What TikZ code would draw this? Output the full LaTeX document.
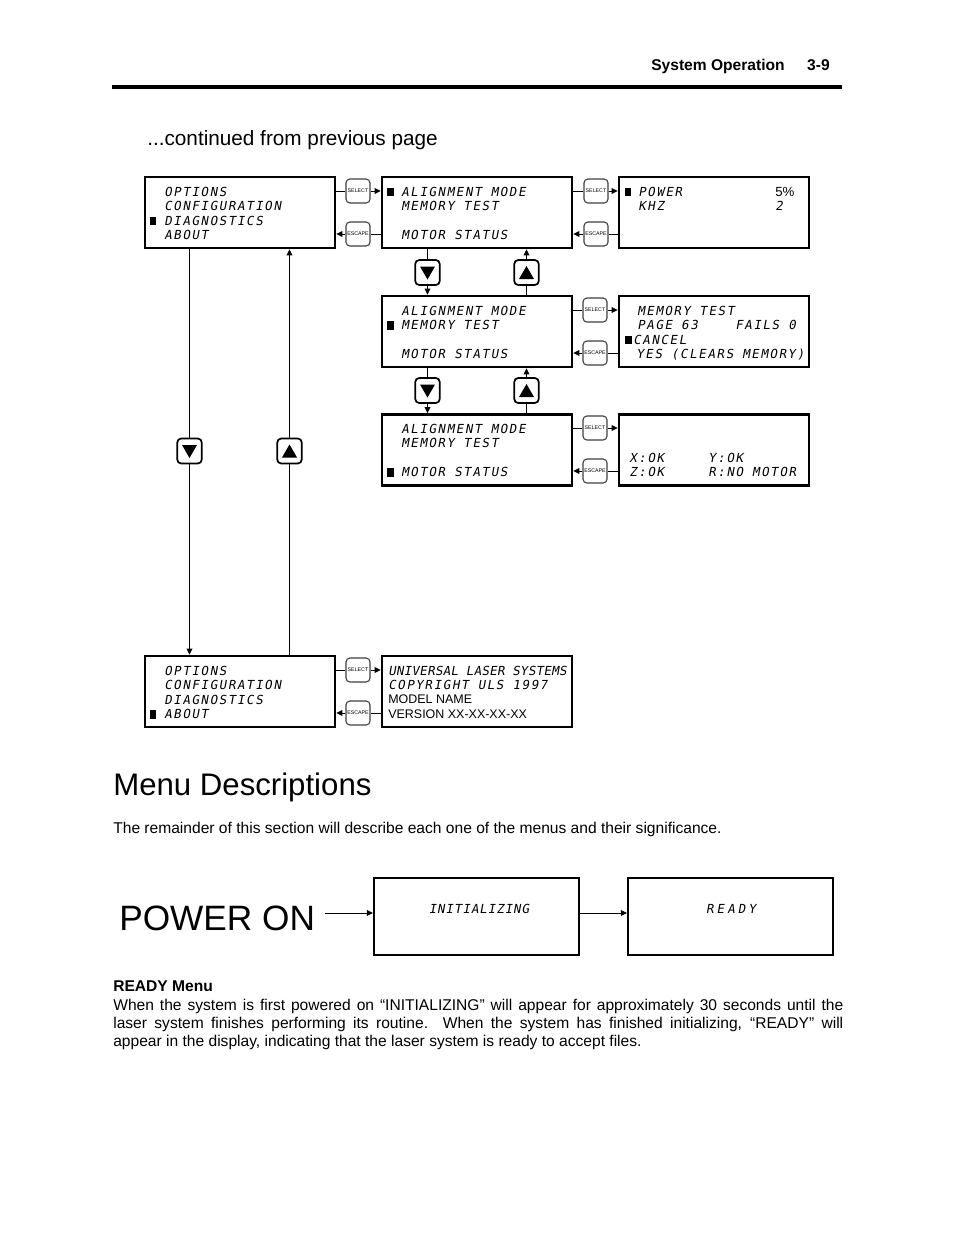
\documentclass[tikz,border=0pt]{standalone}
\usepackage{fontspec}
\setmainfont{Liberation Sans}
\newfontfamily\lcd[FakeSlant=0.18,LetterSpace=12.8]{DejaVu Sans Mono}
\newfontfamily\lcdtight[FakeSlant=0.18,LetterSpace=2.3]{DejaVu Sans Mono}
\newfontfamily\lcdmid[FakeSlant=0.18,LetterSpace=7.5]{DejaVu Sans Mono}
\newfontfamily\lcdwide[FakeSlant=0.18,LetterSpace=24]{DejaVu Sans Mono}
\usetikzlibrary{arrows.meta}
\tikzset{
  lcdbox/.style={draw, line width=1.6pt, minimum width=121.9pt, minimum height=45.55pt, inner sep=0pt},
  bigbox/.style={draw, line width=1.3pt, minimum width=131.5pt, minimum height=49.4pt, inner sep=0pt},
  btn/.style={draw=black!75, line width=0.7pt, rounded corners=2.5pt, minimum width=15.4pt, minimum height=15.4pt, inner sep=0pt, font=\fontsize{3.4}{4}\selectfont},
  nav/.style={draw, line width=1.1pt, rounded corners=2.5pt, minimum width=15.7pt, minimum height=16pt, inner sep=0pt},
  lcdt/.style={anchor=base west, inner sep=0pt, font=\fontsize{8}{9}\lcd},
  conn/.style={line width=0.65pt},
  arr/.style={conn, -{Triangle[length=4pt,width=3.8pt]}},
  txt/.style={anchor=base west, inner sep=0pt}
}
\newcommand\selconn[3]{\draw[conn] (#2.west -| #1.east) -- (#2.west); \draw[arr] (#2.east) -- (#2.east -| #3.west);}
\newcommand\escconn[3]{\draw[conn] (#2.east -| #3.west) -- (#2.east); \draw[arr] (#2.west) -- (#2.west -| #1.east);}
\newcommand\downconn[3]{\draw[conn] (#2.north |- #1.south) -- (#2.north); \draw[arr] (#2.south) -- (#2.south |- #3.north);}
\newcommand\upconn[3]{\draw[conn] (#2.south |- #3.north) -- (#2.south); \draw[arr] (#2.north) -- (#2.north |- #1.south);}
\newcommand\downtri[1]{\fill ([shift={(-7.5,-6)}]#1.center) -- ([shift={(7.5,-6)}]#1.center) -- ([shift={(0,7)}]#1.center) -- cycle;}
\newcommand\uptri[1]{\fill ([shift={(-7.5,6.5)}]#1.center) -- ([shift={(7.5,6.5)}]#1.center) -- ([shift={(0,-6.5)}]#1.center) -- cycle;}
\newcommand\lcdl[4]{\node[lcdt] (#1) at (#2,#3) {#4};}
\newcommand\blt[2]{\fill (#1,#2-4) rectangle ++(6.5,8.5);}
\begin{document}
\begin{tikzpicture}[x=0.6415pt,y=-0.6415pt]
\useasboundingbox[fill=white] (0,0) rectangle (954,1235);

% header
\node[txt, anchor=base east, font=\bfseries] (pg) at (830,70.5) {3-9};
\node[txt, anchor=base east, font=\bfseries] (so) at (785,70.5) {System Operation};
\draw[line width=2pt] (112,87) -- (842,87);
\node[txt, font=\fontsize{13.3}{16}\selectfont] (cont) at (147,145) {...continued from previous page};

% boxes
\node[lcdbox] (A1) at (240,212.5) {};
\node[lcdbox] (B1) at (477,212.5) {};
\node[lcdbox] (C1) at (714,212.5) {};
\node[lcdbox] (B2) at (477,331.5) {};
\node[lcdbox] (C2) at (714,331.5) {};
\node[lcdbox] (B3) at (477,450) {};
\node[lcdbox] (C3) at (714,450) {};
\node[lcdbox] (A4) at (240,691.5) {};
\node[lcdbox] (B4) at (477,691.5) {};

% select / escape buttons
\node[btn] (sA1) at (358,191) {SELECT};
\node[btn] (eA1) at (358,234) {ESCAPE};
\node[btn] (sB1) at (596,191) {SELECT};
\node[btn] (eB1) at (596,234) {ESCAPE};
\node[btn] (sB2) at (595,310) {SELECT};
\node[btn] (eB2) at (595,353) {ESCAPE};
\node[btn] (sB3) at (595,428) {SELECT};
\node[btn] (eB3) at (595,471) {ESCAPE};
\node[btn] (sA4) at (358,670) {SELECT};
\node[btn] (eA4) at (358,713) {ESCAPE};

\selconn{A1}{sA1}{B1} \escconn{A1}{eA1}{B1}
\selconn{B1}{sB1}{C1} \escconn{B1}{eB1}{C1}
\selconn{B2}{sB2}{C2} \escconn{B2}{eB2}{C2}
\selconn{B3}{sB3}{C3} \escconn{B3}{eB3}{C3}
\selconn{A4}{sA4}{B4} \escconn{A4}{eA4}{B4}

% navigation buttons
\node[nav] (dA) at (189.5,451) {};
\node[nav] (uA) at (289.5,451) {};
\node[nav] (dB1) at (427.5,272.5) {};
\node[nav] (uB1) at (526.5,272.5) {};
\node[nav] (dB2) at (427.5,390.5) {};
\node[nav] (uB2) at (526.5,390.5) {};
\downtri{dA} \uptri{uA} \downtri{dB1} \uptri{uB1} \downtri{dB2} \uptri{uB2}

\downconn{A1}{dA}{A4} \upconn{A1}{uA}{A4}
\downconn{B1}{dB1}{B2} \upconn{B1}{uB1}{B2}
\downconn{B2}{dB2}{B3} \upconn{B2}{uB2}{B3}

% A1
\lcdl{a1r1}{164}{196}{OPTIONS}
\lcdl{a1r2}{164}{210.5}{CONFIGURATION}
\lcdl{a1r3}{164}{225}{DIAGNOSTICS}
\lcdl{a1r4}{164}{239.5}{ABOUT}
\blt{149.5}{220.5}
% B1
\lcdl{b1r1}{401}{196}{ALIGNMENT MODE}
\lcdl{b1r2}{401}{210.5}{MEMORY TEST}
\lcdl{b1r4}{401}{239.5}{MOTOR STATUS}
\blt{387}{191.5}
% C1
\lcdl{c1r1}{638}{196}{POWER}
\node[txt, font=\fontsize{8.5}{9}\selectfont] (c1v1) at (775,196) {5\%};
\lcdl{c1r2}{638}{210.5}{KHZ}
\lcdl{c1v2}{775}{210.5}{2}
\blt{624.5}{191.5}
% B2
\lcdl{b2r1}{401}{315}{ALIGNMENT MODE}
\lcdl{b2r2}{401}{329.5}{MEMORY TEST}
\lcdl{b2r4}{401}{358.5}{MOTOR STATUS}
\blt{387}{325}
% C2
\lcdl{c2r1}{637}{315}{MEMORY TEST}
\lcdl{c2r2}{637}{329.5}{PAGE 63}
\lcdl{c2v2}{735}{329.5}{FAILS 0}
\lcdl{c2r3}{633}{344}{CANCEL}
\lcdl{c2r4}{636}{358.5}{YES (CLEARS MEMORY)}
\blt{625}{339.5}
% B3
\lcdl{b3r1}{401}{433}{ALIGNMENT MODE}
\lcdl{b3r2}{401}{447.5}{MEMORY TEST}
\lcdl{b3r4}{401}{476.5}{MOTOR STATUS}
\blt{387}{472}
% C3
\lcdl{c3r3}{629}{462}{X:OK}
\lcdl{c3v3}{708}{462}{Y:OK}
\lcdl{c3r4}{629}{476.5}{Z:OK}
\lcdl{c3v4}{708}{476.5}{R:NO MOTOR}
% A4
\lcdl{a4r1}{164}{675}{OPTIONS}
\lcdl{a4r2}{164}{689.5}{CONFIGURATION}
\lcdl{a4r3}{164}{704}{DIAGNOSTICS}
\lcdl{a4r4}{164}{718.5}{ABOUT}
\blt{149.5}{714}
% B4
\node[lcdt, font=\fontsize{8}{9}\lcdtight] (b4r1) at (388,675) {UNIVERSAL LASER SYSTEMS};
\lcdl{b4r2}{388}{689.5}{COPYRIGHT ULS 1997}
\node[txt, font=\fontsize{8}{9}\selectfont] (b4r3) at (388,703.5) {MODEL NAME};
\node[txt, font=\fontsize{8}{9}\selectfont] (b4r4) at (388,718) {VERSION XX-XX-XX-XX};

% Menu descriptions
\node[txt, font=\fontsize{20}{24}\selectfont] (md) at (113,795) {Menu Descriptions};
\node[txt] (rem) at (113,833) {The remainder of this section will describe each one of the menus and their significance.};

% power on sequence
\node[txt, font=\fontsize{22.6}{27}\selectfont] (pwr) at (119,930) {POWER ON};
\node[bigbox] (init) at (476.5,916.5) {};
\node[bigbox] (ready) at (730.5,916.5) {};
\node[lcdt, anchor=base, font=\fontsize{8}{9}\lcdmid] (initT) at (479,913.5) {INITIALIZING};
\node[lcdt, anchor=base, font=\fontsize{8}{9}\lcdwide] (readyT) at (731,913.5) {READY};
\coordinate (p0) at (325,913);
\draw[arr] (p0) -- (p0 -| init.west);
\draw[arr] (init.east |- p0) -- (ready.west |- p0);

% READY menu
\node[txt, font=\bfseries] (rm) at (113,991) {READY Menu};
\node[anchor=north west, inner sep=0pt, text width=468.3pt, align=justify, font=\fontsize{10}{11.55}\selectfont] (para) at (113,997.4) {\strut When the system is first powered on “INITIALIZING” will appear for approximately 30 seconds until the\linebreak laser system finishes performing its routine.\ \ When the system has finished initializing, “READY” will\linebreak appear in the display, indicating that the laser system is ready to accept files.};
\end{tikzpicture}
\end{document}
